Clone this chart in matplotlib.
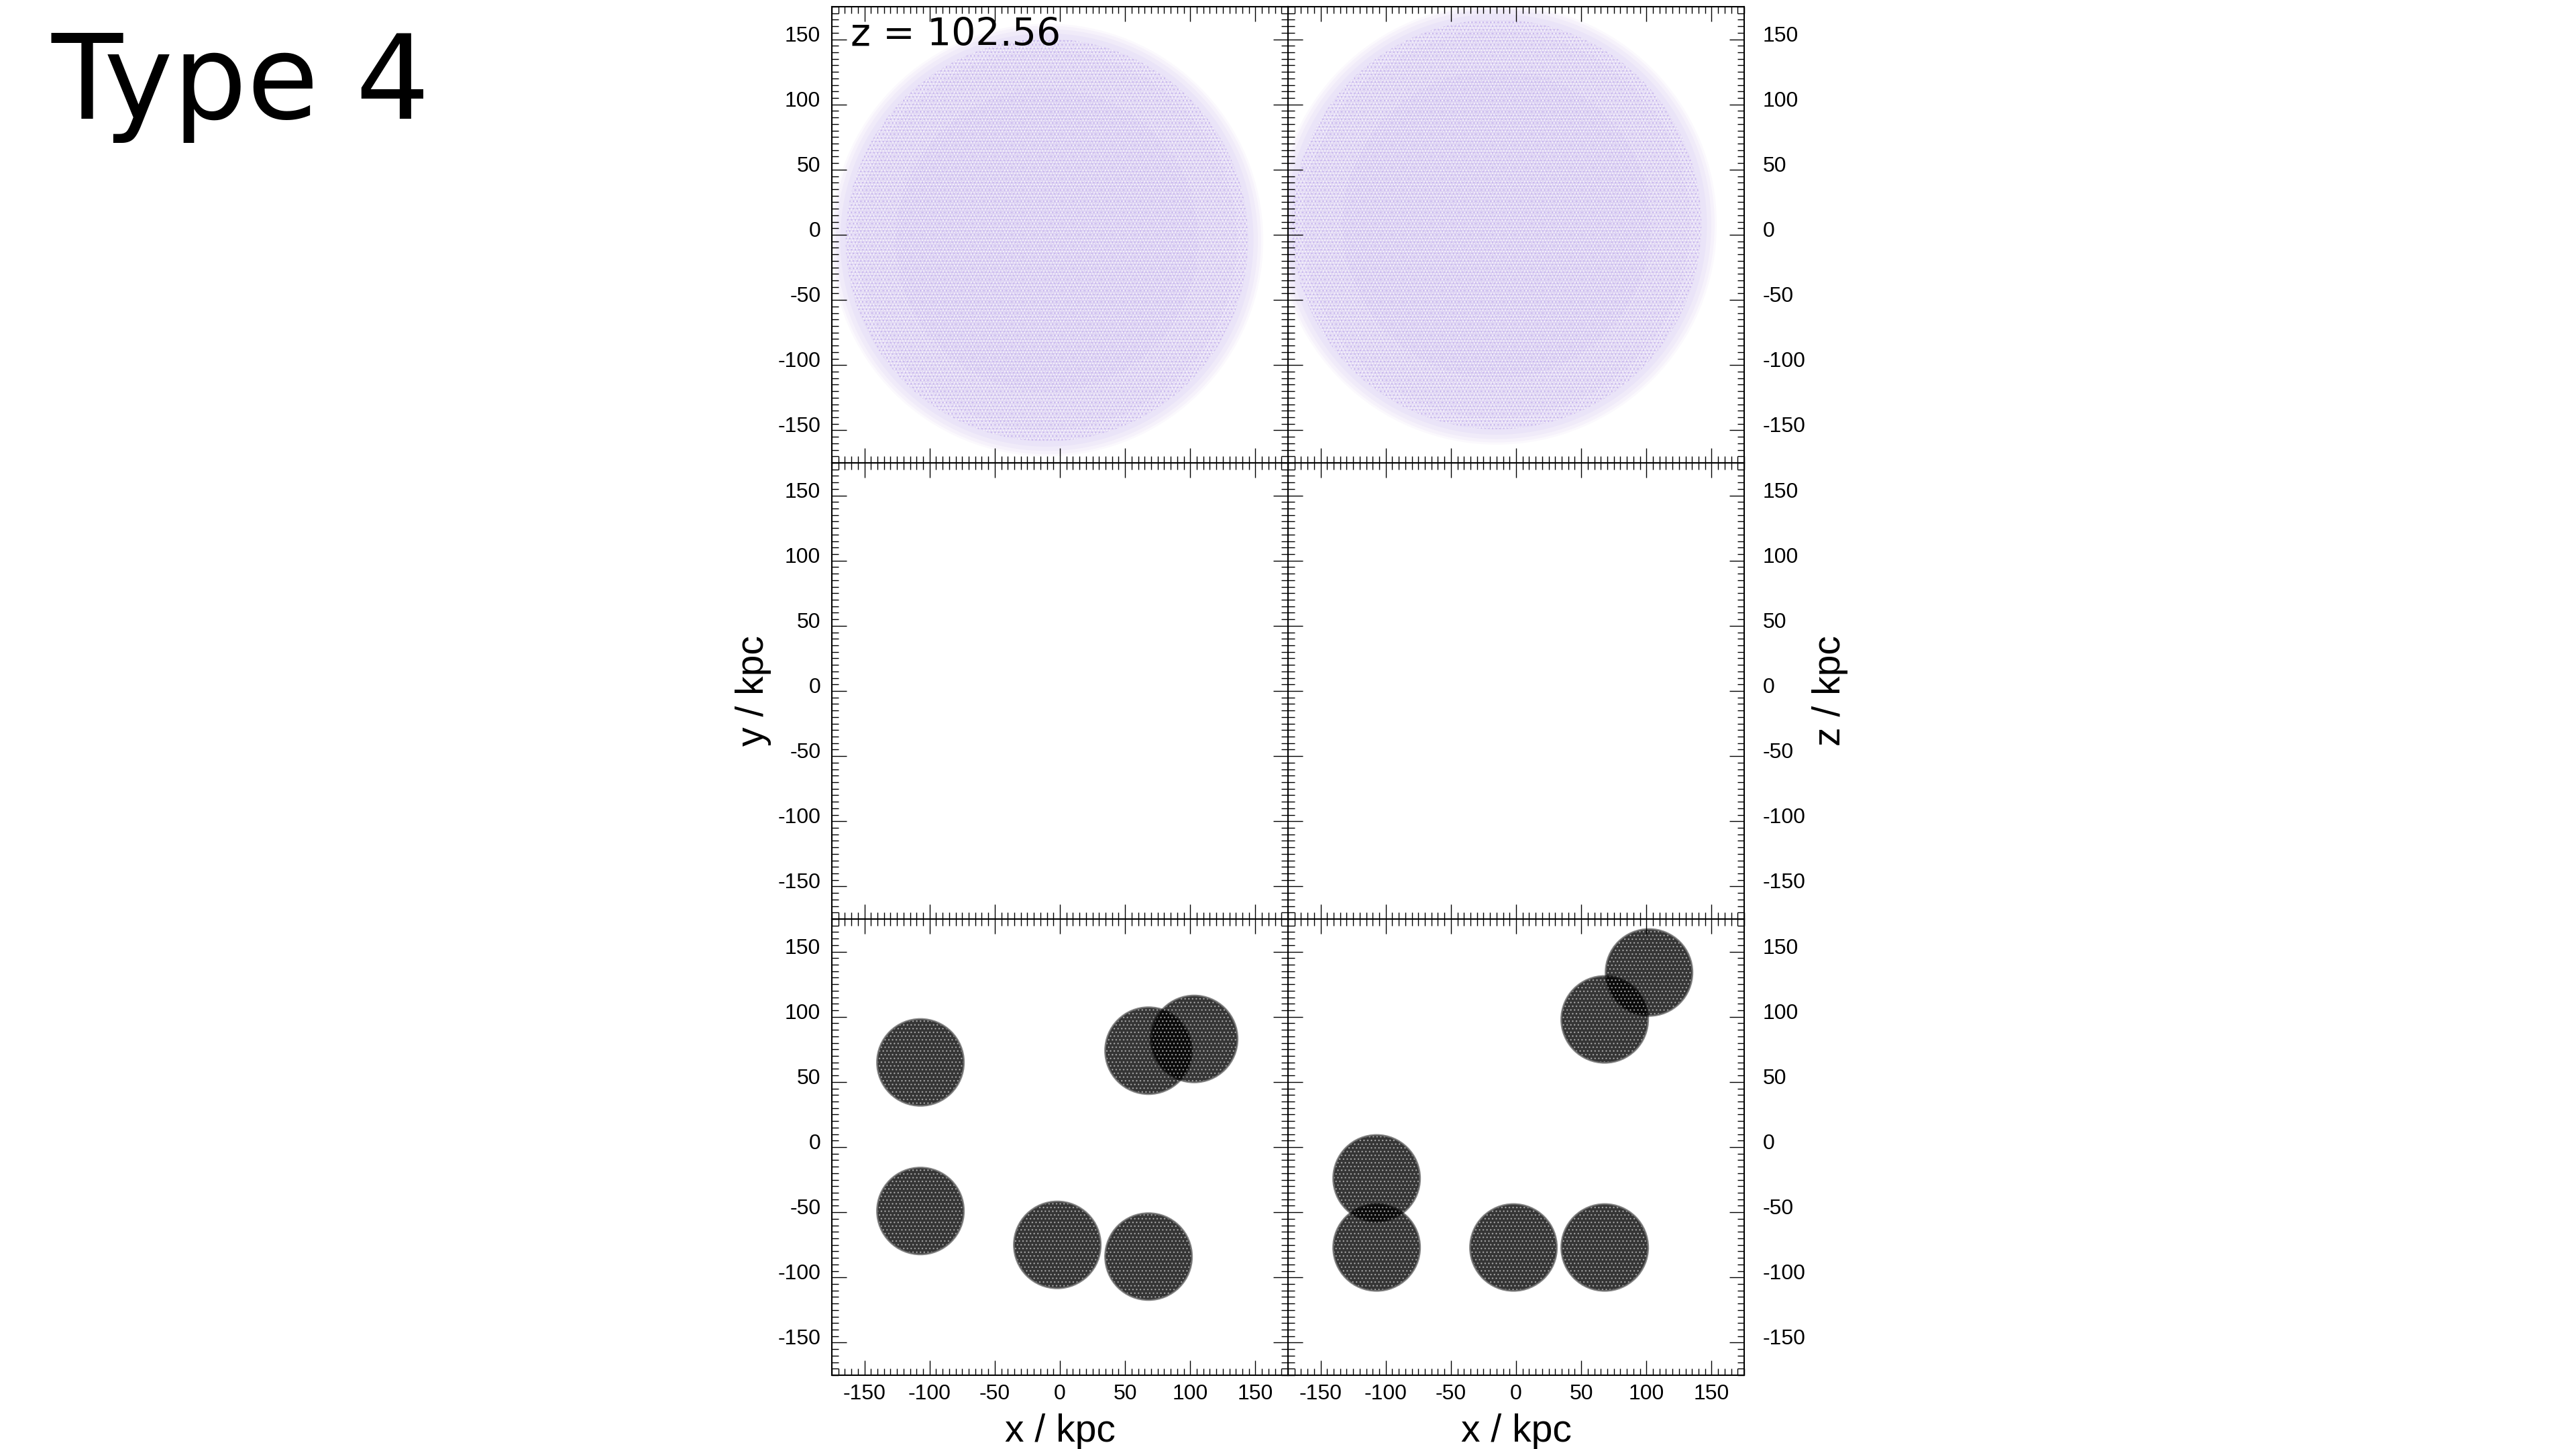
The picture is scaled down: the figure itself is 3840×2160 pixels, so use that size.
import matplotlib
matplotlib.use("Agg")
import matplotlib.pyplot as plt
from matplotlib.patches import Circle
from matplotlib.ticker import MultipleLocator
from matplotlib.transforms import ScaledTranslation

plt.rcParams['font.family'] = ['Liberation Sans', 'DejaVu Sans']
plt.rcParams['axes.unicode_minus'] = False
plt.rcParams['hatch.linewidth'] = 1.0

# tick values
tick_values = [-150, -100, -50, 0, 50, 100, 150]
axis_limit = 175

# gas clouds in the top row (centre x, centre y, radius in kpc)
gas_xy = [-10, -4, 166]
gas_xz = [-15, 8, 169]

# star clusters in the bottom row
stars_xy_x = [-107, -107, -2, 68, 68, 103]
stars_xy_y = [65, -49, -75, -84, 74, 83]
stars_xz_x = [102, 68, -107, -107, -2, 68]
stars_xz_y = [134, 98, -24, -77, -77, -77]
star_radius = 34

W = 3840.0
H = 2160.0
left = [1240, 1920]
top = [10, 690, 1370]
size = 680


def make_panel(col, row):
    ax = fig.add_axes([left[col] / W, 1 - (top[row] + size) / H, size / W, size / H])
    ax.set_xlim(-axis_limit, axis_limit)
    ax.set_ylim(-axis_limit, axis_limit)
    ax.set_xticks(tick_values)
    ax.set_yticks(tick_values)
    ax.xaxis.set_minor_locator(MultipleLocator(5))
    ax.yaxis.set_minor_locator(MultipleLocator(5))
    ax.tick_params(which='major', direction='in', top=True, right=True, length=15.8, width=1.0)
    ax.tick_params(which='minor', direction='in', top=True, right=True, length=7.2, width=1.0)
    ax.tick_params(axis='both', which='major', labelsize=23, pad=9)
    ax.tick_params(axis='y', which='major', pad=12)
    ax.tick_params(axis='x', labelbottom=(row == 2))
    if col == 0:
        ax.tick_params(axis='y', labelleft=True, labelright=False)
    else:
        ax.tick_params(axis='y', labelleft=False, labelright=True, pad=20)
    for s in ax.spines.values():
        s.set_linewidth(1.5)
    # labels sit a bit above their ticks in the original
    nudge = ScaledTranslation(0, 8.5 / 100, fig.dpi_scale_trans)
    for lab in ax.get_yticklabels():
        lab.set_transform(lab.get_transform() + nudge)
    return ax


def draw_gas(ax, cloud):
    x, y, r = cloud
    # soft rim, then a denser middle with a light grain on top
    rim = [(1.0, '#fbf9fd'), (0.99, '#f6f2fb'), (0.975, '#f0ebf9'), (0.955, '#eae4f8'),
           (0.93, '#e5ddf6'), (0.88, '#e1d8f4'), (0.7, '#ddd3f3')]
    for frac, colour in rim:
        ax.add_patch(Circle((x, y), r * frac, facecolor=colour, edgecolor='none', lw=0))
    ax.add_patch(Circle((x, y), r * 0.93, facecolor='none', edgecolor='#f7f4fc', lw=0, hatch='....'))
    ax.add_patch(Circle((x, y), r * 0.93, facecolor='none', edgecolor='#c9b8ee', lw=0, hatch='...'))


def draw_stars(ax, xs, ys):
    for x, y in zip(xs, ys):
        ax.add_patch(Circle((x, y), star_radius, facecolor='#000000', edgecolor='none', lw=0, alpha=0.45))
        ax.add_patch(Circle((x, y), star_radius * 0.98, facecolor='#000000', edgecolor='none', lw=0, alpha=0.3))
        ax.add_patch(Circle((x, y), star_radius * 0.96, facecolor='#000000', edgecolor='#ffffff', lw=0,
                            alpha=0.45, hatch='...'))


fig = plt.figure(figsize=(38.4, 21.6), dpi=100, facecolor='white')

ax_gas_xy = make_panel(0, 0)
ax_gas_xz = make_panel(1, 0)
make_panel(0, 1)
make_panel(1, 1)
ax_st_xy = make_panel(0, 2)
ax_st_xz = make_panel(1, 2)

draw_gas(ax_gas_xy, gas_xy)
draw_gas(ax_gas_xz, gas_xz)
draw_stars(ax_st_xy, stars_xy_x, stars_xy_y)
draw_stars(ax_st_xz, stars_xz_x, stars_xz_y)

fig.text(1580 / W, 1 - 2134 / H, 'x / kpc', fontsize=41, ha='center', va='center')
fig.text(2260 / W, 1 - 2134 / H, 'x / kpc', fontsize=41, ha='center', va='center')
fig.text(1123 / W, 1 - 1030 / H, 'y / kpc', fontsize=41, rotation=90, ha='center', va='center')
fig.text(2728 / W, 1 - 1030 / H, 'z / kpc', fontsize=41, rotation=90, ha='center', va='center')

fig.text(76 / W, 1 - 177 / H, 'Type 4', fontsize=125, family='DejaVu Sans', ha='left', va='baseline')
fig.text(1268 / W, 1 - 68 / H, 'z = 102.56', fontsize=41, family='DejaVu Sans', ha='left', va='baseline', zorder=10)

fig.savefig('out.png', dpi=100, facecolor='white')
